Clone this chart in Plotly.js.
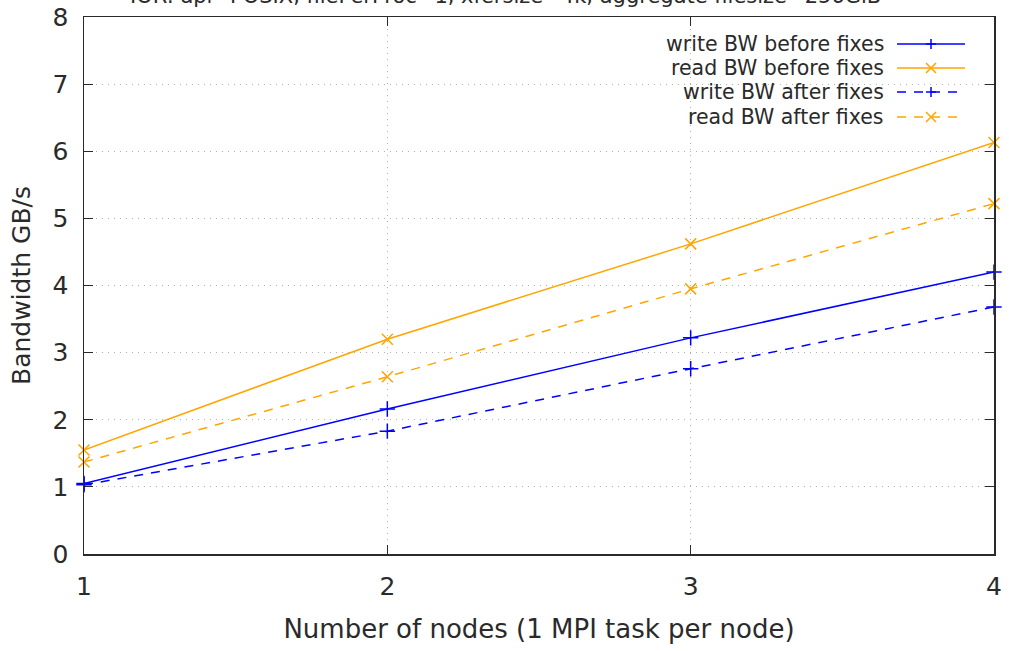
<!DOCTYPE html>
<html><head><meta charset="utf-8">
<script src="https://cdn.plot.ly/plotly-3.0.1.min.js"></script>
<style>html,body{margin:0;padding:0;background:#fff}#chart{width:1009px;height:651px}</style>
</head><body><div id="chart"></div>
<script>
const nodes = [1, 2, 3, 4];
const writeBefore = [1.05, 2.16, 3.22, 4.20];
const readBefore = [1.55, 3.20, 4.62, 6.13];
const writeAfter = [1.03, 1.83, 2.76, 3.68];
const readAfter = [1.37, 2.64, 3.95, 5.22];
const seriesNames = ["write BW before fixes", "read BW before fixes", "write BW after fixes", "read BW after fixes"];
const titleText = "IOR: api=POSIX, filePerProc=1, xfersize=4k, aggregate filesize=256GiB";
const xTitle = "Number of nodes (1 MPI task per node)";
const yTitle = "Bandwidth GB/s";

const BLUE = "#0000ff", ORANGE = "#ffa500";
const FONT = "DejaVu Sans, sans-serif";
const TXT = "#2a2a2a";
const styles = [
  {color: BLUE, dash: "solid", sym: "cross-thin-open"},
  {color: ORANGE, dash: "solid", sym: "x-thin-open"},
  {color: BLUE, dash: "9px,8px", sym: "cross-thin-open"},
  {color: ORANGE, dash: "9px,8px", sym: "x-thin-open"}
];
const ys = [writeBefore, readBefore, writeAfter, readAfter];
const traces = ys.map((y, i) => ({
  x: nodes, y: y, name: seriesNames[i], type: "scatter", mode: "lines+markers",
  line: {color: styles[i].color, width: 1.5, dash: styles[i].dash},
  marker: {symbol: styles[i].sym, size: 11, color: styles[i].color, line: {color: styles[i].color, width: 1.5}},
  cliponaxis: false
}));

// custom legend (gnuplot style: text right, sample at right)
const W = 910, H = 537;
const rowsPx = [44, 68, 92, 117];
const shapes = [], annotations = [];
rowsPx.forEach((py, i) => {
  const yp = (554 - py) / H;
  const x0 = (897 - 84) / W, x1 = (965 - 84) / W, xm = (931 - 84) / W;
  shapes.push({type: "line", xref: "paper", yref: "paper", x0: x0, x1: x1, y0: yp, y1: yp,
    line: {color: styles[i].color, width: 1.5, dash: styles[i].dash}});
  const dx = 5 / W, dy = 5 / H;
  let path;
  if (styles[i].sym.startsWith("cross")) {
    path = `M ${xm - dx} ${yp} L ${xm + dx} ${yp} M ${xm} ${yp - dy} L ${xm} ${yp + dy}`;
  } else {
    path = `M ${xm - dx} ${yp - dy} L ${xm + dx} ${yp + dy} M ${xm - dx} ${yp + dy} L ${xm + dx} ${yp - dy}`;
  }
  shapes.push({type: "path", xref: "paper", yref: "paper", path: path, line: {color: styles[i].color, width: 1.5}});
  annotations.push({xref: "paper", yref: "paper", x: (886 - 84) / W, y: yp, xanchor: "right", yanchor: "middle",
    text: seriesNames[i], showarrow: false, font: {family: FONT, size: 20.5, color: TXT}});
});
annotations.push({xref: "paper", yref: "paper", x: (505 - 84) / W, y: 1, xanchor: "center", yanchor: "bottom", yshift: 7,
  text: titleText, showarrow: false, font: {family: FONT, size: 21, color: TXT}});

const layout = {
  width: 1009, height: 651,
  margin: {l: 84, r: 15, t: 17, b: 97, pad: 0},
  paper_bgcolor: "#fff", plot_bgcolor: "#fff",
  showlegend: false,
  font: {family: FONT, color: TXT},
  xaxis: {
    range: [1, 4], tickvals: nodes, ticktext: nodes.map(String),
    ticks: "inside", ticklen: 9, tickcolor: TXT, tickwidth: 1,
    showline: true, linecolor: TXT, linewidth: 1.5, mirror: "ticks",
    showgrid: true, gridcolor: "#b0b0b0", griddash: "1px,5px", gridwidth: 1,
    zeroline: false, tickfont: {size: 25, family: FONT, color: TXT},
    ticklabelstandoff: 9,
    title: {text: xTitle, font: {size: 26, family: FONT, color: TXT}, standoff: 20}
  },
  yaxis: {
    range: [0, 8], dtick: 1, tick0: 0,
    ticks: "inside", ticklen: 9, tickcolor: TXT, tickwidth: 1,
    showline: true, linecolor: TXT, linewidth: 1.5, mirror: "ticks",
    showgrid: true, gridcolor: "#b0b0b0", griddash: "1px,5px", gridwidth: 1,
    zeroline: false, tickfont: {size: 25, family: FONT, color: TXT},
    ticklabelstandoff: 9,
    title: {text: yTitle, font: {size: 25, family: FONT, color: TXT}, standoff: 15}
  },
  shapes: shapes, annotations: annotations
};
Plotly.newPlot("chart", traces, layout, {displayModeBar: false, staticPlot: true});
</script></body></html>
